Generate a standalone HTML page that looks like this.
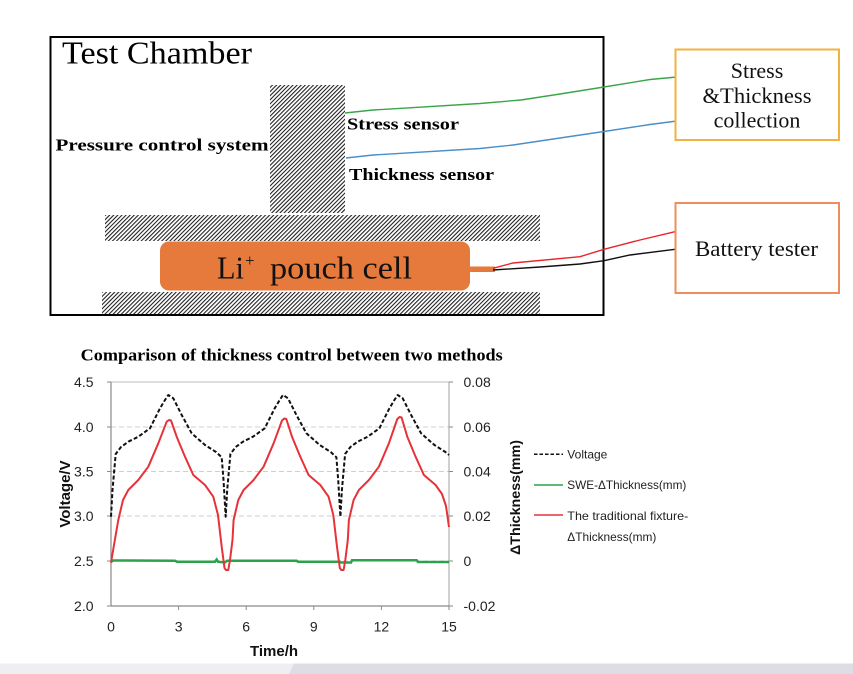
<!DOCTYPE html>
<html><head><meta charset="utf-8"><style>
html,body{margin:0;padding:0;background:#fff;}
svg{display:block;}
</style></head><body>
<svg width="853" height="674" viewBox="0 0 853 674" xmlns="http://www.w3.org/2000/svg">
<defs>
<pattern id="hatch" patternUnits="userSpaceOnUse" width="2.9" height="2.9" patternTransform="rotate(45)">
<rect x="0" y="0" width="2.9" height="2.9" fill="#fff"/>
<rect x="0" y="0" width="1.05" height="2.9" fill="#1a1a1a"/>
</pattern>
</defs>
<rect width="853" height="674" fill="#fff"/>

<!-- Test chamber -->
<rect x="50.5" y="37" width="553" height="278" fill="none" stroke="#000" stroke-width="2"/>
<text x="62" y="63.5" font-family="Liberation Serif, serif" font-size="32" textLength="190" lengthAdjust="spacingAndGlyphs">Test Chamber</text>

<rect x="270" y="85" width="75" height="128" fill="url(#hatch)"/>
<rect x="105" y="215" width="435" height="26" fill="url(#hatch)"/>
<rect x="102" y="292" width="438" height="22" fill="url(#hatch)"/>

<rect x="160" y="241.5" width="310" height="49" rx="9" ry="9" fill="#e67a3c"/>
<rect x="469" y="266.5" width="26" height="5.5" fill="#e67a3c"/>
<text x="217" y="278.5" font-family="Liberation Serif, serif" font-size="32" fill="#111" textLength="27" lengthAdjust="spacingAndGlyphs">Li</text>
<text x="245" y="266" font-family="Liberation Serif, serif" font-size="17" fill="#111">+</text>
<text x="270" y="278.5" font-family="Liberation Serif, serif" font-size="32" fill="#111" textLength="142" lengthAdjust="spacingAndGlyphs">pouch cell</text>

<text x="55.5" y="150.5" font-family="Liberation Serif, serif" font-weight="bold" font-size="17" textLength="213" lengthAdjust="spacingAndGlyphs">Pressure control system</text>
<text x="347" y="129.3" font-family="Liberation Serif, serif" font-weight="bold" font-size="17" textLength="112" lengthAdjust="spacingAndGlyphs">Stress sensor</text>
<text x="349" y="180" font-family="Liberation Serif, serif" font-weight="bold" font-size="17" textLength="145" lengthAdjust="spacingAndGlyphs">Thickness sensor</text>

<!-- wires -->
<polyline points="345,113 373,110 480,103.5 521,100 560,94 604,87 650,79.5 677,77" fill="none" stroke="#3aa64a" stroke-width="1.4"/>
<polyline points="346,158 373,155 480,148.5 513,145 560,138 604,131.5 650,124.5 677,121" fill="none" stroke="#4a8fc8" stroke-width="1.4"/>
<polyline points="493,268.3 513,263 580,256.7 604,249.3 640,240 675,231.7" fill="none" stroke="#e8262a" stroke-width="1.4"/>
<polyline points="493,270 540,267 580,264 604,260.7 630,255 675,249.3" fill="none" stroke="#111" stroke-width="1.4"/>

<!-- right boxes -->
<rect x="675.5" y="49.5" width="163.5" height="90.5" fill="#fff" stroke="#f3b23f" stroke-width="2"/>
<text x="757" y="78" text-anchor="middle" font-family="Liberation Serif, serif" font-size="22" fill="#111">Stress</text>
<text x="757" y="103" text-anchor="middle" font-family="Liberation Serif, serif" font-size="22" fill="#111" textLength="109" lengthAdjust="spacingAndGlyphs">&amp;Thickness</text>
<text x="757" y="127.3" text-anchor="middle" font-family="Liberation Serif, serif" font-size="22" fill="#111">collection</text>

<rect x="675.5" y="203" width="163.5" height="90" fill="#fff" stroke="#ec8e5e" stroke-width="2"/>
<text x="756.5" y="256" text-anchor="middle" font-family="Liberation Serif, serif" font-size="22" fill="#111" textLength="123" lengthAdjust="spacingAndGlyphs">Battery tester</text>

<!-- Chart -->
<text x="80.7" y="360.7" font-family="Liberation Serif, serif" font-weight="bold" font-size="17" textLength="422" lengthAdjust="spacingAndGlyphs">Comparison of thickness control between two methods</text>

<g stroke="#cfcfcf" stroke-width="1" stroke-dasharray="5,3">
<line x1="111" y1="427" x2="449" y2="427"/>
<line x1="111" y1="471.5" x2="449" y2="471.5"/>
<line x1="111" y1="516" x2="449" y2="516"/>
<line x1="111" y1="561" x2="449" y2="561"/>
</g>
<line x1="111" y1="382" x2="449" y2="382" stroke="#bdbdbd" stroke-width="1"/>
<line x1="449" y1="382" x2="449" y2="606" stroke="#a0a0a0" stroke-width="1"/>
<line x1="111" y1="382" x2="111" y2="606" stroke="#8a8a8a" stroke-width="1.2"/>
<line x1="111" y1="606" x2="449" y2="606" stroke="#8a8a8a" stroke-width="1.2"/>
<g stroke="#8a8a8a" stroke-width="1">
<line x1="107" y1="382" x2="111" y2="382"/><line x1="107" y1="427" x2="111" y2="427"/>
<line x1="107" y1="471.5" x2="111" y2="471.5"/><line x1="107" y1="516" x2="111" y2="516"/>
<line x1="107" y1="561" x2="111" y2="561"/><line x1="107" y1="606" x2="111" y2="606"/>
<line x1="449" y1="382" x2="453" y2="382"/><line x1="449" y1="427" x2="453" y2="427"/>
<line x1="449" y1="471.5" x2="453" y2="471.5"/><line x1="449" y1="516" x2="453" y2="516"/>
<line x1="449" y1="561" x2="453" y2="561"/><line x1="449" y1="606" x2="453" y2="606"/>
<line x1="178.6" y1="606" x2="178.6" y2="610"/><line x1="246.2" y1="606" x2="246.2" y2="610"/>
<line x1="313.8" y1="606" x2="313.8" y2="610"/><line x1="381.4" y1="606" x2="381.4" y2="610"/>
<line x1="449" y1="606" x2="449" y2="610"/>
</g>

<g font-family="Liberation Sans, DejaVu Sans, sans-serif" font-size="14" fill="#222">
<g text-anchor="end">
<text x="93.5" y="387">4.5</text>
<text x="93.5" y="432">4.0</text>
<text x="93.5" y="476.5">3.5</text>
<text x="93.5" y="521">3.0</text>
<text x="93.5" y="566">2.5</text>
<text x="93.5" y="611">2.0</text>
</g>
<text x="463.5" y="387">0.08</text>
<text x="463.5" y="432">0.06</text>
<text x="463.5" y="476.5">0.04</text>
<text x="463.5" y="521">0.02</text>
<text x="463.5" y="566">0</text>
<text x="463.5" y="611">-0.02</text>
<g text-anchor="middle">
<text x="111" y="631.5">0</text>
<text x="178.6" y="631.5">3</text>
<text x="246.2" y="631.5">6</text>
<text x="313.8" y="631.5">9</text>
<text x="381.4" y="631.5">12</text>
<text x="449" y="631.5">15</text>
</g>
</g>
<text x="274" y="656" text-anchor="middle" font-family="Liberation Sans, DejaVu Sans, sans-serif" font-weight="bold" font-size="15" fill="#111">Time/h</text>
<text transform="translate(70,494) rotate(-90)" text-anchor="middle" font-family="Liberation Sans, DejaVu Sans, sans-serif" font-weight="bold" font-size="15" fill="#111">Voltage/V</text>
<text transform="translate(520,497.5) rotate(-90)" text-anchor="middle" font-family="Liberation Sans, DejaVu Sans, sans-serif" font-weight="bold" font-size="14" fill="#111" textLength="115" lengthAdjust="spacingAndGlyphs">ΔThickness(mm)</text>

<!-- green -->
<polyline points="111,562 113,560.5 175,560.7 177,561.7 215,561.7 216.7,559.5 218,561.7 225,562.5 227,560.7 296.7,560.7 298,561.7 340,561.7 341,562.5 351,562.5 352,560.3 416.7,560.3 418,562 449,562" fill="none" stroke="#2ca24a" stroke-width="2.5"/>

<!-- red -->
<polyline fill="none" stroke="#e63239" stroke-width="2" stroke-linejoin="round" points="111,562.7 114,545 118.3,520 123,500 128.3,490 138.3,480 148.3,466.7 158.3,443.3 166.7,421.7 169,420 171,420.5 176.7,436.7 185,456.7 193.3,475 205,485 213.3,496.7 218,515 221.7,546.7 224.5,568 226,570 228.3,570 230,560 232.5,540 233.6,520 238.3,500 243.6,490 253.6,480 263.6,466.7 273.6,443.3 282,420.5 284.3,418.5 286.3,419 292,436.7 300.3,456.7 308.6,475 320.3,485 328.6,496.7 333.3,515 337,546.7 339.8,568 341.3,570 343.6,570 345.3,560 347.8,540 348.9,520 353.6,500 358.9,490 368.9,480 378.9,466.7 388.9,443.3 397.3,419 399.6,417 401.6,417.5 407.3,436.7 415.6,456.7 423.9,475 435.6,485 442,494 446,506 449,527"/>

<!-- black dashed voltage -->
<polyline fill="none" stroke="#111" stroke-width="2" stroke-dasharray="4,2.2" stroke-linejoin="round" points="111,516.7 112.5,490 115.7,454 121,447 128.3,441.7 138.3,436.7 150,428.3 160,408.3 165,400 168.3,395 173.3,398.3 181.7,415 191.7,433.3 205,445 216,452 221.7,457.3 223.5,480 225.7,516.7 227.2,490 230.4,454 235.7,447 243,441.7 253,436.7 264.7,428.3 274.7,408.3 279.7,400 283,395 288,398.3 296.4,415 306.4,433.3 319.7,445 330.7,452 336.4,457.3 338.2,480 340.4,516.7 341.9,490 345.1,454 350.4,447 357.7,441.7 367.7,436.7 379.4,428.3 389.4,408.3 394.4,400 397.7,395 402.7,398.3 411.1,415 421.1,433.3 434.4,445 445.4,452 449,455"/>

<!-- legend -->
<line x1="534" y1="454.3" x2="563" y2="454.3" stroke="#111" stroke-width="1.5" stroke-dasharray="3.5,2"/>
<line x1="534" y1="485" x2="563" y2="485" stroke="#2ca24a" stroke-width="1.5"/>
<line x1="534" y1="515" x2="563" y2="515" stroke="#e63239" stroke-width="1.5"/>
<g font-family="Liberation Sans, DejaVu Sans, sans-serif" font-size="12" fill="#222">
<text x="567.3" y="458.5">Voltage</text>
<text x="567.3" y="489.2" textLength="119" lengthAdjust="spacingAndGlyphs">SWE-ΔThickness(mm)</text>
<text x="567.3" y="520" textLength="121" lengthAdjust="spacingAndGlyphs">The traditional fixture-</text>
<text x="567.3" y="540.8" textLength="89" lengthAdjust="spacingAndGlyphs">ΔThickness(mm)</text>
</g>

<!-- bottom strip -->
<rect x="0" y="663.5" width="853" height="10.5" fill="#efeff3"/>
<polygon points="294,663.5 853,663.5 853,674 289,674" fill="#dedde6"/>
</svg>
</body></html>
